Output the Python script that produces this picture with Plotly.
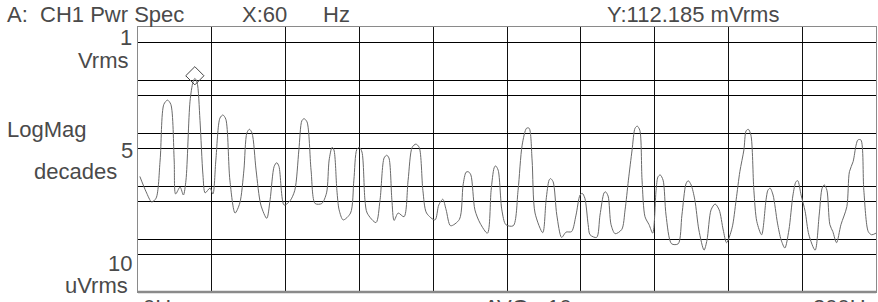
import plotly.graph_objects as go

# Frequency (Hz) and log magnitude (decades re 1 Vrms)
freq_hz = [0.5, 2.2, 3.7, 4.9, 6.0, 7.0, 8.0, 8.9, 9.8, 10.2, 11.4, 12.3, 13.0, 14.1, 14.9, 15.4, 16.0, 16.8, 17.6, 18.2,
           19.5, 20.3, 21.1, 22.2, 23.0, 23.8, 24.9, 26.3, 27.6, 28.7, 29.5, 30.2, 30.9, 32.0, 33.3, 34.9, 35.8, 36.9, 37.6, 38.2,
           39.6, 41.2, 42.5, 43.6, 44.4, 45.0, 45.8, 46.9, 48.0, 49.8, 51.1, 51.8, 52.6, 53.1, 53.9, 54.5, 55.6, 57.6, 58.5, 59.3,
           60.0, 60.7, 61.5, 62.1, 64.5, 65.6, 66.7, 67.4, 68.0, 68.8, 69.4, 70.5, 72.1, 73.2, 74.3, 75.3, 76.2, 77.2, 78.2, 80.5,
           81.5, 82.6, 83.5, 84.7, 87.1, 88.1, 88.9, 89.5, 90.2, 91.3, 92.7, 94.7, 95.7, 96.5, 96.9, 97.6, 98.6, 99.7, 101.7, 103.0,
           104.1, 105.3, 106.0, 106.8, 107.6, 109.7, 110.6, 111.4, 111.8, 112.5, 113.5, 114.8, 116.0, 117.5, 118.7, 119.8, 120.4, 121.1, 122.0, 122.5,
           124.3, 125.2, 126.3, 126.7, 127.4, 128.2, 129.3, 131.1, 132.0, 132.9, 133.9, 134.7, 135.3, 136.0, 136.6, 137.4, 138.5, 139.5, 140.4, 140.9,
           141.5, 142.3, 143.1, 144.6, 146.4, 147.4, 148.5, 149.1, 149.9, 150.9, 152.0, 153.4, 154.2, 155.3, 156.4, 157.5, 158.6, 159.5, 161.0, 162.1,
           163.1, 164.2, 164.8, 165.4, 166.1, 166.9, 167.7, 169.0, 170.2, 170.7, 171.3, 172.1, 173.3, 174.3, 175.3, 176.4, 177.5, 178.3, 178.8, 179.7,
           180.8, 181.8, 183.5, 184.6, 185.4, 186.0, 186.7, 187.5, 188.3, 189.3, 190.5, 192.1, 192.8, 193.8, 194.6, 195.1, 195.9, 196.7, 197.9, 198.8,
           200.0]
logmag = [-2.82, -3.11, -3.30, -3.23, -2.51, -1.46, -1.38, -1.46, -2.51, -3.15, -3.02, -3.17, -2.89, -1.40, -1.04, -0.97, -1.04, -1.76, -2.79, -3.13,
          -3.04, -3.15, -2.51, -1.72, -1.66, -1.74, -2.89, -3.51, -3.32, -2.70, -2.00, -1.93, -2.00, -2.70, -3.36, -3.61, -3.26, -2.63, -2.56, -2.63,
          -3.36, -3.28, -3.08, -2.32, -1.77, -1.73, -1.79, -2.70, -3.33, -3.33, -3.13, -2.51, -2.27, -2.32, -3.08, -3.45, -3.64, -3.51, -2.89, -2.31,
          -2.27, -2.36, -3.26, -3.51, -3.69, -3.26, -2.47, -2.42, -2.47, -3.26, -3.65, -3.51, -3.58, -2.89, -2.27, -2.21, -2.27, -3.08, -3.51, -3.64,
          -3.36, -3.25, -3.45, -3.75, -3.63, -2.98, -2.74, -2.73, -2.79, -3.45, -3.70, -3.89, -3.08, -2.66, -2.62, -2.70, -3.45, -3.73, -3.75, -3.08,
          -2.23, -1.91, -1.91, -2.51, -3.51, -3.88, -3.26, -2.89, -2.86, -2.92, -3.55, -3.97, -3.87, -3.86, -3.55, -3.17, -3.14, -3.23, -3.73, -3.92,
          -3.97, -3.55, -3.13, -3.11, -3.19, -3.73, -3.90, -3.82, -3.45, -2.89, -2.32, -1.91, -1.87, -1.95, -2.89, -3.58, -3.73, -3.89, -3.08, -2.83,
          -2.79, -2.89, -3.55, -4.09, -4.09, -3.55, -2.96, -2.90, -2.98, -3.26, -3.83, -4.21, -4.02, -3.45, -3.34, -3.45, -3.83, -4.07, -3.79, -3.26,
          -2.73, -2.32, -1.96, -1.93, -2.04, -3.08, -3.67, -3.92, -3.26, -3.08, -3.04, -3.17, -3.70, -4.02, -4.17, -3.83, -3.17, -2.92, -2.90, -3.17,
          -3.48, -3.92, -4.21, -3.55, -3.04, -2.98, -3.08, -3.73, -3.86, -4.07, -3.73, -3.39, -2.73, -2.54, -2.23, -2.13, -2.13, -3.08, -3.86, -3.92,
          -3.89]

marker_x = [15.4]
marker_y = [-0.92]

x_grid = [0, 20, 40, 60, 80, 100, 120, 140, 160, 180, 200]
y_grid = [-0.301, -1, -1.301, -2, -2.301, -3, -3.301, -4, -4.301]

# plot area in pixels (for placing text annotations)
L, R, T, B = 138, 876, 27, 292
W_, H_ = 878, 302

def px(x):
    return (x - L) / (R - L)

def py(y):
    return (B - y) / (B - T)

fig = go.Figure()
fig.add_trace(go.Scatter(x=freq_hz, y=logmag, mode="lines",
                         line=dict(color="#6a6a6a", width=1, shape="spline", smoothing=0.8),
                         hoverinfo="skip"))
fig.add_trace(go.Scatter(x=marker_x, y=marker_y, mode="markers",
                         marker=dict(symbol="diamond-open", size=14, color="#444444",
                                     line=dict(width=1, color="#444444")), hoverinfo="skip"))

font = dict(family="Liberation Sans, Arial, sans-serif", size=22, color="#4a4a4a")
NB = "\u00a0"

texts = [
    # text, x, y, xanchor
    ("A:" + NB + NB + "CH1 Pwr Spec", 5, 14, "left"),
    ("X:60", 240, 14, "left"),
    ("Hz", 321, 14, "left"),
    ("Y:112.185 mVrms", 605, 14, "left"),
    ("1", 134, 37, "right"),
    ("Vrms", 131, 61, "right"),
    ("LogMag", 5, 129, "left"),
    ("5", 135, 150, "right"),
    ("decades", 119, 171, "right"),
    ("10", 134, 263, "right"),
    ("uVrms", 130, 285, "right"),
    ("0Hz", 141, 307, "left"),
    ("AVG:" + NB + NB + "10", 482, 307, "left"),
    ("200Hz", 811, 307, "left"),
]
for t, x, y, xa in texts:
    fig.add_annotation(text=t, x=px(x), y=py(y), xref="paper", yref="paper",
                       xanchor=xa, yanchor="middle", showarrow=False, font=font)

fig.add_shape(type="line", xref="paper", yref="paper", x0=0, x1=1, y0=0, y1=0,
              line=dict(color="#8a8a8a", width=2.5))

fig.update_xaxes(range=[0, 200], tickvals=x_grid, showticklabels=False, ticks="",
                 showgrid=True, gridcolor="#111111", gridwidth=1, zeroline=False,
                 showline=True, linecolor="#8a8a8a", linewidth=1, mirror=True)
fig.update_yaxes(range=[-5, 0], tickvals=y_grid, showticklabels=False, ticks="",
                 showgrid=True, gridcolor="#000000", gridwidth=1, zeroline=False,
                 showline=True, linecolor="#8a8a8a", linewidth=1, mirror=True)

fig.update_layout(width=W_, height=H_,
                  margin=dict(l=L, r=W_ - R, t=T, b=H_ - B, autoexpand=False),
                  paper_bgcolor="white", plot_bgcolor="white", showlegend=False)

fig.write_html("out.html", config={"displayModeBar": False, "staticPlot": True},
               post_script="document.body.style.margin='0';document.body.style.padding='0';"
                           "document.body.style.overflow='hidden';")
